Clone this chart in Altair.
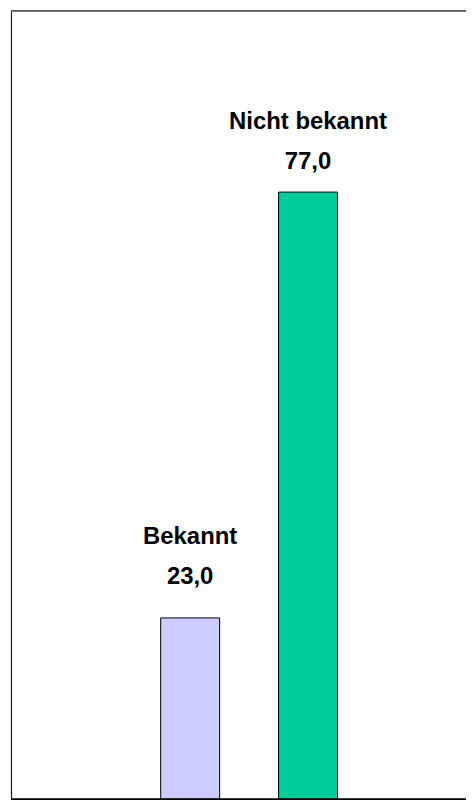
import altair as alt
import pandas as pd

categories = ["Bekannt", "Nicht bekannt"]
values = [23.0, 77.0]
colors = ["#CCCCFF", "#00CC99"]

df = pd.DataFrame({
    "cat": categories,
    "val": values,
    "label": [f"{c}\n{v:.1f}".replace(".", ",") for c, v in zip(categories, values)],
})

# empty slots on either side to place the two bars like the original
x_domain = [" "] + categories + ["  "]

x = alt.X("cat:N", axis=None,
          scale=alt.Scale(domain=x_domain, paddingInner=0.5, paddingOuter=0.18, align=0.75))
y = alt.Y("val:Q", scale=alt.Scale(domain=[0, 100], nice=False, zero=True),
          axis=alt.Axis(domain=True, domainColor="#222222", domainWidth=1.2,
                        ticks=False, labels=False, grid=False, title=None))

bars = alt.Chart(df).mark_bar(stroke="black", strokeWidth=1).encode(
    x=x, y=y,
    color=alt.Color("cat:N", scale=alt.Scale(domain=categories, range=colors), legend=None),
)

text_style = dict(lineBreak="\n", baseline="alphabetic", align="center",
                  font="Liberation Sans", fontWeight="bold",
                  fontSize=24, lineHeight=40, color="black")

label_a = alt.Chart(df).transform_filter(alt.datum.cat == categories[0]).mark_text(
    dy=-74, **text_style).encode(x=x, y=y, text="label:N")
label_b = alt.Chart(df).transform_filter(alt.datum.cat == categories[1]).mark_text(
    dy=-63, **text_style).encode(x=x, y=y, text="label:N")

base_line = alt.Chart(df).mark_rule(color="black", strokeWidth=1.5).encode(y=alt.datum(0))
top_line = alt.Chart(df).mark_rule(color="#555555", strokeWidth=1.5).encode(y=alt.datum(100))

chart = alt.layer(bars, label_a, label_b, base_line, top_line).properties(
    width=457, height=792, padding={"left": 2, "top": 0, "right": 0, "bottom": 0},
).configure_view(stroke=None)

chart.save("out.html", embed_options={"renderer": "svg", "actions": False})
